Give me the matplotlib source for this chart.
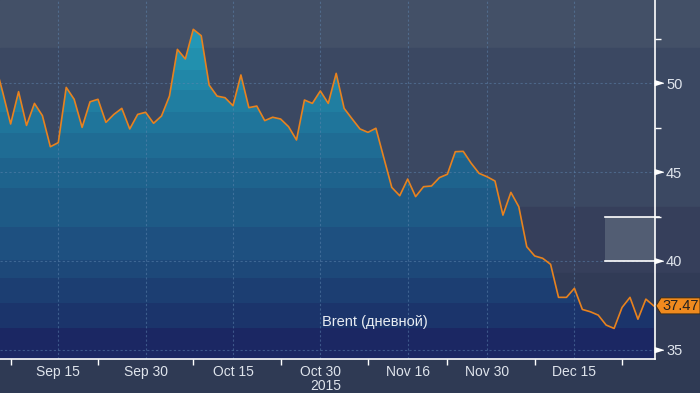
import numpy as np
import pandas as pd
import matplotlib
matplotlib.use("Agg")
import matplotlib.pyplot as plt
from matplotlib.patches import Polygon
from matplotlib.colors import to_rgb

# Brent daily close, business days Sep 3 .. Dec 29 2015
dates = pd.bdate_range("2015-09-03", "2015-12-29")
brent = [
    51.2, 49.5, 47.71, 49.53, 47.63, 48.87, 48.18, 46.43, 46.66, 49.77,   # Sep 3 - Sep 16
    49.1, 47.52, 48.96, 49.1, 47.8, 48.25, 48.59, 47.43, 48.25, 48.37,    # Sep 17 - Sep 30
    47.75, 48.16, 49.28, 51.91, 51.37, 53.04, 52.68, 49.9, 49.28, 49.19,  # Oct 1 - Oct 14
    48.74, 50.47, 48.63, 48.72, 47.9, 48.09, 47.99, 47.56, 46.81, 49.06,  # Oct 15 - Oct 28
    48.87, 49.57, 48.87, 50.56, 48.59, 48.0, 47.43, 47.24, 47.47, 45.8,   # Oct 29 - Nov 11
    44.14, 43.67, 44.61, 43.62, 44.18, 44.22, 44.69, 44.88, 46.15, 46.17, # Nov 12 - Nov 25
    45.5, 44.93, 44.74, 44.5, 42.58, 43.86, 43.05, 40.8, 40.28, 40.15,    # Nov 26 - Dec 9
    39.81, 37.95, 37.95, 38.46, 37.27, 37.14, 36.95, 36.39, 36.2, 37.38,  # Dec 10 - Dec 23
    37.95, 36.72, 37.85, 37.47,                                           # Dec 24 - Dec 29
]
tick_dates = ["2015-09-15", "2015-09-30", "2015-10-15", "2015-10-30",
              "2015-11-16", "2015-11-30", "2015-12-15"]
tick_labels = ["Sep 15", "Sep 30", "Oct 15", "Oct 30\n2015", "Nov 16", "Nov 30", "Dec 15"]
minor_dates = ["2015-09-07", "2015-09-22", "2015-10-08", "2015-10-23",
               "2015-11-09", "2015-11-23", "2015-12-08", "2015-12-23"]
y_ticks = [35, 40, 45, 50]
y_minor = [37.5, 42.5, 47.5, 52.5]
box_range = [40, 42.5]
series_label = "Brent (дневной)"

W, H = 700, 393
AX_W, AX_H = 655, 359
FONT = ["Liberation Sans", "DejaVu Sans"]
TEXT = "#dfe4ec"

# (top px, bottom px, colour) - background stripes across the whole figure
bg_bands = [(0, 48, "#435067"), (48, 207, "#3b4862"), (207, 273, "#363f5b"),
            (273, 359, "#313b56")]
# stripes of the area fill under the line, pixel rows inside the axes
fill_bands = [(0, 48, "#2397b6"), (48, 70, "#2290ae"), (70, 90, "#2187a8"),
              (90, 112, "#207ea1"), (112, 133, "#1f759b"), (133, 158, "#1f6c94"),
              (158, 188, "#1e638d"), (188, 227, "#1e5a86"), (227, 260, "#1e5080"),
              (260, 278, "#1d4879"), (278, 303, "#1c3e72"), (303, 328, "#1b346b"),
              (328, 359, "#1b2763")]


def main():
    x = np.arange(len(dates))
    ylo, yhi = 34.48, 54.69
    xlo, xhi = 0.66, 83.15

    fig = plt.figure(figsize=(W / 100, H / 100), dpi=100)
    fig.patch.set_facecolor("#2f3a54")
    for top, bot, c in bg_bands:
        fig.add_artist(plt.Rectangle((0, 1 - bot / H), 1, (bot - top) / H,
                                     transform=fig.transFigure, color=c, zorder=-10))

    ax = fig.add_axes([0, 1 - AX_H / H, AX_W / W, AX_H / H])
    ax.set_facecolor("none")
    ax.set_xlim(xlo, xhi)
    ax.set_ylim(ylo, yhi)

    # striped gradient under the line
    img = np.zeros((AX_H, 1, 3))
    for top, bot, c in fill_bands:
        img[top:bot] = to_rgb(c)
    im = ax.imshow(img, extent=[xlo, xhi, ylo, yhi], aspect="auto", origin="upper",
                   interpolation="nearest", zorder=1)
    verts = [(x[0], ylo)] + list(zip(x, brent)) + [(x[-1], ylo)]
    clip = Polygon(verts, closed=True, transform=ax.transData)
    im.set_clip_path(clip)

    ax.plot(x, brent, color="#e8821e", lw=1.2, zorder=3)

    # grey box with white edges at the right
    ax.axhspan(box_range[0], box_range[1], xmin=605 / AX_W, xmax=1, color="#525d73", lw=0, zorder=2)
    for v in box_range:
        ax.plot([605 / AX_W, 1.006], [v, v], color="white", lw=1.2, zorder=4,
                transform=ax.get_yaxis_transform(), clip_on=False)

    # axes
    for s in ["left", "top"]:
        ax.spines[s].set_visible(False)
    for s in ["right", "bottom"]:
        ax.spines[s].set_color("white")
        ax.spines[s].set_linewidth(1.2)
        ax.spines[s].set_zorder(5)

    major_pos = [dates.get_loc(pd.Timestamp(d)) for d in tick_dates]
    minor_pos = [dates.get_loc(pd.Timestamp(d)) for d in minor_dates]
    ax.set_xticks(major_pos, tick_labels)
    ax.set_xticks(minor_pos, minor=True)
    for lbl in ax.get_xticklabels():
        lbl.set_multialignment("right")
        lbl.set_linespacing(1.0)
    ax.tick_params(axis="x", which="major", length=0, pad=4, labelsize=10,
                   labelcolor=TEXT, labelfontfamily=FONT)
    ax.tick_params(axis="x", which="minor", length=4, width=1, color="white", direction="out")

    ax.yaxis.tick_right()
    ax.set_yticks(y_ticks)
    ax.set_yticks(y_minor, minor=True)
    ax.tick_params(axis="y", which="major", length=0, pad=8, labelsize=10.5,
                   labelcolor=TEXT, labelfontfamily=FONT)
    ax.tick_params(axis="y", which="minor", length=4, width=1, color="white", direction="out")

    tri = [(-0.8, -0.5), (-0.8, 0.5), (0.8, 0)]
    ax.plot(np.full(len(y_ticks), 1 + 4.2 / AX_W), y_ticks, ls="none", marker=tri, ms=6,
            color="white", transform=ax.get_yaxis_transform(), clip_on=False, zorder=5)

    ax.set_axisbelow("line")
    ax.grid(True, which="major", color="#5f86b0", alpha=0.5, linestyle=(0, (2, 2)), linewidth=0.8)

    ax.text(375 / AX_W, 1 - 321.7 / AX_H, series_label, transform=ax.transAxes,
            ha="center", va="center", color="#e8ecf2", fontsize=10.5, family=FONT, zorder=6)

    # orange last-value tag
    last = brent[-1]
    yf = (1 - AX_H / H) + (last - ylo) / (yhi - ylo) * AX_H / H
    px, py = 1 / W, 1 / H
    x0 = AX_W / W
    tag = Polygon([(x0 + 1 * px, yf), (x0 + 6 * px, yf + 8 * py), (1.0, yf + 8 * py),
                   (1.0, yf - 8 * py), (x0 + 6 * px, yf - 8 * py)], closed=True,
                  transform=fig.transFigure, facecolor="#f08a1e", edgecolor="#3a2a10",
                  lw=0.6, zorder=10)
    fig.add_artist(tag)
    fig.text((x0 + 6 * px + 1.0) / 2, yf, f"{last:.2f}", ha="center", va="center",
             color="#222222", fontsize=10.5, family=FONT, zorder=11)

    fig.savefig("out.png", dpi=100, facecolor=fig.get_facecolor())


if __name__ == "__main__":
    main()
